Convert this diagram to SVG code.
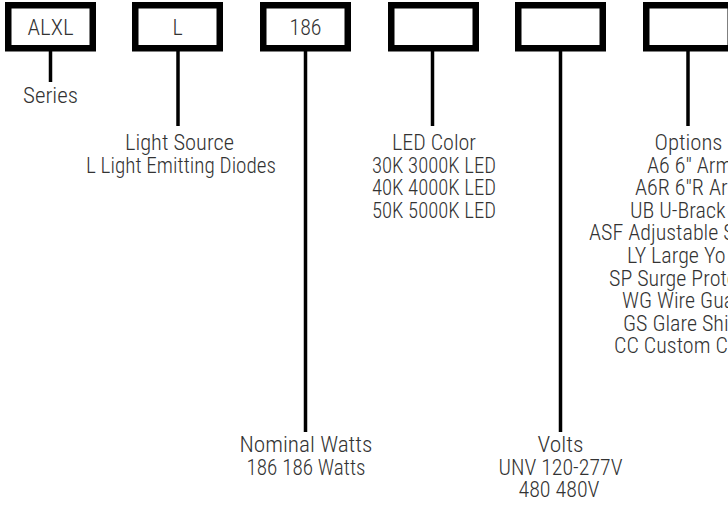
<svg xmlns="http://www.w3.org/2000/svg" width="728" height="520" viewBox="0 0 728 520">
<style>
.box{fill:#fff;stroke:#000;stroke-width:6.5}
.ln{stroke:#000;stroke-width:3.5;fill:none}
text{font-family:"Roboto Condensed","Liberation Sans Narrow","DejaVu Sans Condensed","Liberation Sans",sans-serif;font-size:22px;font-weight:300;fill:#333}
.c{text-anchor:middle}
</style>
<rect width="728" height="520" fill="#fff"/>
<g id="connectors">
<line class="ln" x1="50.5" y1="51" x2="50.5" y2="82"/>
<line class="ln" x1="178" y1="51" x2="178" y2="126"/>
<line class="ln" x1="305.5" y1="51" x2="305.5" y2="432"/>
<line class="ln" x1="432.5" y1="51" x2="432.5" y2="126"/>
<line class="ln" x1="560.5" y1="51" x2="560.5" y2="432"/>
<line class="ln" x1="688" y1="51" x2="688" y2="126"/>
</g>
<g id="box-series"><rect class="box" x="8.25" y="5.25" width="84.5" height="43"/><text class="c" x="50.5" y="35" textLength="46" lengthAdjust="spacingAndGlyphs">ALXL</text></g>
<g id="box-source"><rect class="box" x="135.25" y="5.25" width="84.5" height="43"/><text class="c" x="177.5" y="35">L</text></g>
<g id="box-watts"><rect class="box" x="263.25" y="5.25" width="84.5" height="43"/><text class="c" x="305.5" y="35" textLength="32" lengthAdjust="spacingAndGlyphs">186</text></g>
<g id="box-color"><rect class="box" x="391.25" y="5.25" width="84.5" height="43"/></g>
<g id="box-volts"><rect class="box" x="518.25" y="5.25" width="84.5" height="43"/></g>
<g id="box-options"><rect class="box" x="646.25" y="5.25" width="84.5" height="43"/></g>
<g id="label-series"><text class="c" x="50.5" y="103" textLength="55" lengthAdjust="spacingAndGlyphs">Series</text></g>
<g id="label-source"><text class="c" x="179.5" y="150" textLength="109" lengthAdjust="spacingAndGlyphs">Light Source</text><text class="c" x="181" y="172.6" textLength="190" lengthAdjust="spacingAndGlyphs">L Light Emitting Diodes</text></g>
<g id="label-color"><text class="c" x="434" y="150" textLength="84" lengthAdjust="spacingAndGlyphs">LED Color</text><text class="c" x="434" y="172.6" textLength="124" lengthAdjust="spacingAndGlyphs">30K 3000K LED</text><text class="c" x="434" y="195.2" textLength="124" lengthAdjust="spacingAndGlyphs">40K 4000K LED</text><text class="c" x="434" y="217.8" textLength="124" lengthAdjust="spacingAndGlyphs">50K 5000K LED</text></g>
<g id="label-options">
<text class="c" x="688.5" y="150" textLength="68" lengthAdjust="spacingAndGlyphs">Options</text>
<text x="647" y="172.6">A6 6" Arm</text>
<text x="635" y="195.2">A6R 6"R Ar</text>
<text x="630" y="217.8">UB U-Brack</text>
<text x="589" y="240.4">ASF Adjustable Sl</text>
<text x="627" y="263">LY Large Yo</text>
<text x="609" y="285.6">SP Surge Prote</text>
<text x="622" y="308.2">WG Wire Gua</text>
<text x="623" y="330.8">GS Glare Shie</text>
<text x="614" y="353.4">CC Custom Co</text>
</g>
<g id="label-watts"><text class="c" x="306" y="452" textLength="133" lengthAdjust="spacingAndGlyphs">Nominal Watts</text><text class="c" x="306" y="474.6" textLength="119" lengthAdjust="spacingAndGlyphs">186 186 Watts</text></g>
<g id="label-volts"><text class="c" x="560.5" y="452" textLength="46" lengthAdjust="spacingAndGlyphs">Volts</text><text class="c" x="560.5" y="474.6" textLength="124" lengthAdjust="spacingAndGlyphs">UNV 120-277V</text><text class="c" x="559" y="497.2">480 480V</text></g>
</svg>
